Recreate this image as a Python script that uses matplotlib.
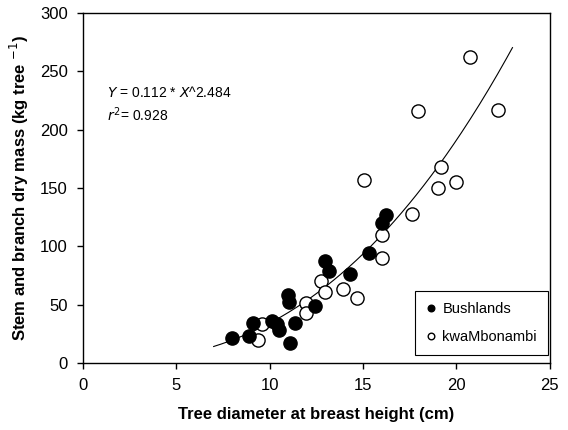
"""Stem and branch dry mass against tree diameter, with power-law fit."""
import numpy as np
import matplotlib
matplotlib.use('Agg')
import matplotlib.pyplot as plt

plt.rcParams['font.family'] = ['Liberation Sans', 'DejaVu Sans']

# Bushlands (filled)
bush_dbh = [8.0, 8.9, 9.1, 10.15, 10.4, 10.5, 11.0, 11.03, 11.1, 11.35,
            12.45, 12.95, 13.2, 14.3, 15.3, 16.0, 16.25]
bush_mass = [21, 23, 34, 36, 33, 28.5, 58, 52.5, 17, 34,
             49, 87, 79, 76, 94, 120, 127]

# kwaMbonambi (open)
kwa_dbh = [9.35, 9.6, 11.97, 11.97, 12.75, 12.95, 13.95, 14.65, 15.05, 16.0,
           16.0, 17.6, 17.95, 19.0, 19.15, 19.95, 20.7, 22.2]
kwa_mass = [19.7, 33, 51, 43, 70, 61, 63.5, 55.5, 157, 110,
            89.5, 128, 216, 150, 168, 155, 262, 217]

# fitted model Y = a * X^b
fit_a = 0.112
fit_b = 2.484
fit_range = (7.0, 23.0)

fig = plt.figure(figsize=(5.68, 4.30), dpi=100)
ax = fig.add_axes([0.146, 0.156, 0.822, 0.814])

xs = np.linspace(fit_range[0], fit_range[1], 200)
ax.plot(xs, fit_a * xs ** fit_b, color='black', linewidth=0.8, zorder=1)

ax.plot(bush_dbh, bush_mass, 'o', markersize=9.5, markerfacecolor='black',
        markeredgecolor='black', markeredgewidth=1.0, label='Bushlands', zorder=3)
ax.plot(kwa_dbh, kwa_mass, 'o', markersize=9.5, markerfacecolor='white',
        markeredgecolor='black', markeredgewidth=1.0, label='kwaMbonambi', zorder=2)

ax.set_xlim(0, 25)
ax.set_ylim(0, 300)
ax.set_xticks([0, 5, 10, 15, 20, 25])
ax.set_yticks([0, 50, 100, 150, 200, 250, 300])
ax.tick_params(direction='out', length=4, width=1, labelsize=12, pad=7,
               top=False, right=False)
for s in ax.spines.values():
    s.set_linewidth(1.0)

ax.set_xlabel('Tree diameter at breast height (cm)', fontsize=12,
              fontweight='bold', labelpad=10)
ax.set_ylabel(r'Stem and branch dry mass (kg tree $^{-1}$)', fontsize=12,
              fontweight='bold', labelpad=6)

ax.text(1.3, 232, r'$Y$ = 0.112 * $X$^2.484', fontsize=10, va='center')
ax.text(1.3, 213, r'$r^2$= 0.928', fontsize=10, va='center')

leg = ax.legend(loc='lower right', bbox_to_anchor=(0.996, 0.022), borderaxespad=0,
                fontsize=10.5, markerscale=0.5, handlelength=0.6, handletextpad=0.5,
                fancybox=False, framealpha=1, edgecolor='black', borderpad=0.75,
                labelspacing=0.95)
leg.get_frame().set_linewidth(0.8)

fig.savefig('out.png', dpi=100)
